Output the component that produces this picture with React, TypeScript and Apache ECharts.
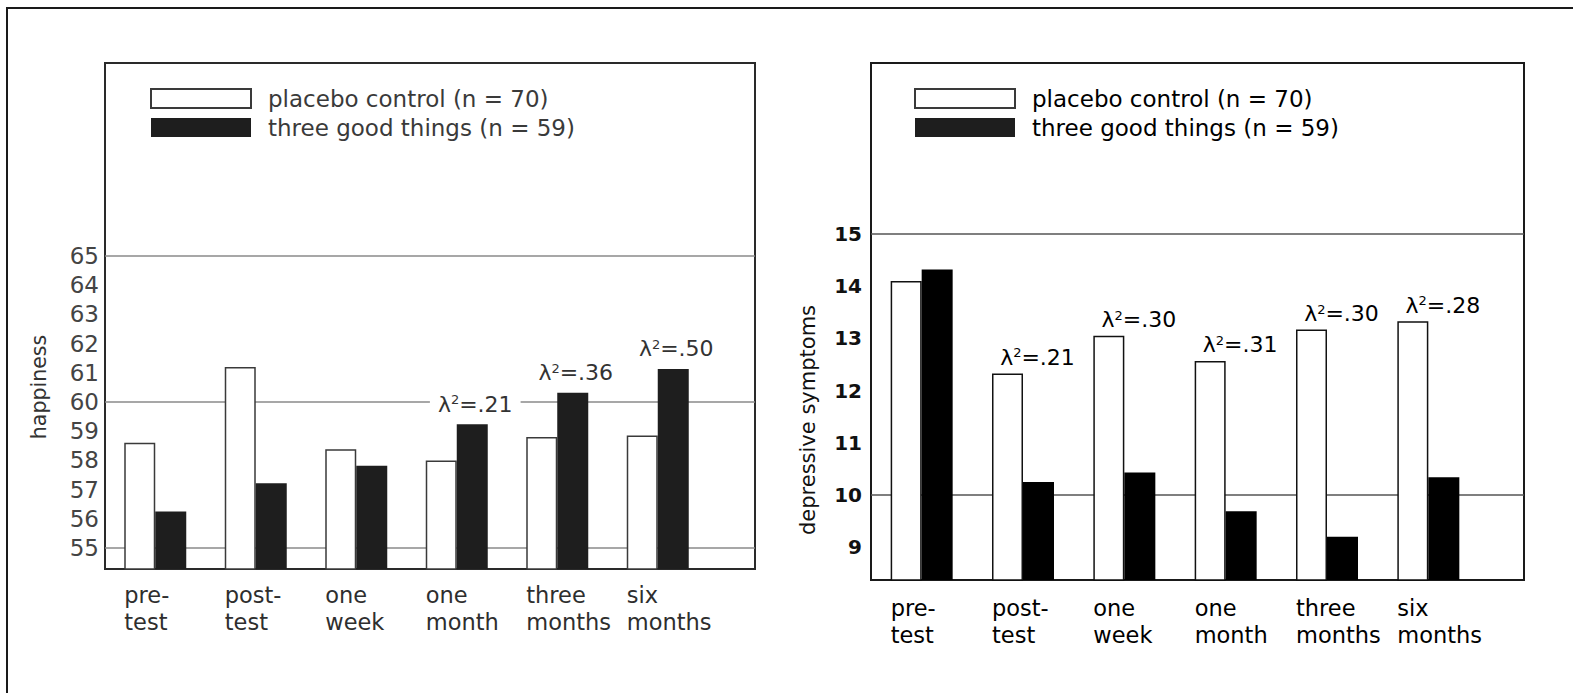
import { useEffect, useRef } from 'react';
import * as echarts from 'echarts';

const categories = ['pre-\ntest', 'post-\ntest', 'one\nweek', 'one\nmonth', 'three\nmonths', 'six\nmonths'];
const seriesNames = ['placebo control (n = 70)', 'three good things (n = 59)'];

const happinessPlacebo = [58.6, 61.2, 58.38, 58.0, 58.8, 58.85];
const happinessGood = [56.25, 57.22, 57.82, 59.24, 60.32, 61.13];
const happinessEffect = ['', '', '', '.21', '.36', '.50'];
const happinessTicks = [55, 56, 57, 58, 59, 60, 61, 62, 63, 64, 65];
const happinessGridValues = [55, 60, 65];

const depressionPlacebo = [14.1, 12.33, 13.05, 12.57, 13.17, 13.33];
const depressionGood = [14.32, 10.25, 10.43, 9.69, 9.2, 10.34];
const depressionEffect = ['', '.21', '.30', '.31', '.30', '.28'];
const depressionTicks = [9, 10, 11, 12, 13, 14, 15];
const depressionGridValues = [10, 15];

const FONT = '"DejaVu Sans", Verdana, sans-serif';

function effectText(e: string) {
  return `{l|λ}{s|2}{l|=${e}}`;
}

export default function App() {
  const ref = useRef<HTMLDivElement>(null);

  useEffect(() => {
    const chart = echarts.init(ref.current!, null, { renderer: 'svg' });

    const catLabel = (color: string, margin: number) => ({
      margin,
      formatter: (v: string) => v.split('\n').map((s) => `{a|${s}}`).join('\n'),
      rich: {
        a: { width: 62, align: 'left', fontSize: 22.5, lineHeight: 27, color, fontFamily: FONT },
      },
    });

    const effRich = (color: string) => ({
      l: { fontSize: 22, color, fontFamily: FONT },
      s: { fontSize: 13, color, fontFamily: FONT, verticalAlign: 'top' },
    });

    const withLabels = (values: number[], effects: string[]) =>
      values.map((v, i) => ({
        value: v,
        label: { show: !!effects[i], formatter: effects[i] ? effectText(effects[i]) : '' },
      }));

    const legendBase = {
      top: 87,
      orient: 'vertical',
      icon: 'rect',
      itemWidth: 100,
      itemHeight: 19,
      itemGap: 6,
      padding: 0,
      selectedMode: false,
      data: seriesNames,
    };

    const option: any = {
      animation: false,
      backgroundColor: '#fff',
      textStyle: { fontFamily: FONT },
      graphic: [
        {
          type: 'rect',
          silent: true,
          z: -10,
          shape: { x: 7, y: 8, width: 1620, height: 740 },
          style: { fill: 'none', stroke: '#1a1a1a', lineWidth: 2 },
        },
      ],
      legend: [
        {
          ...legendBase,
          left: 150,
          textStyle: { fontSize: 23, color: '#3a3a3a', fontFamily: FONT, padding: [0, 0, 0, 12] },
        },
        {
          ...legendBase,
          left: 914,
          textStyle: { fontSize: 23, color: '#000', fontFamily: FONT, padding: [0, 0, 0, 12] },
        },
      ],
      grid: [
        { left: 105, top: 63, width: 650, height: 506, show: true, borderColor: '#2a2a2a', borderWidth: 2, backgroundColor: 'transparent' },
        { left: 105, top: 63, width: 603, height: 506 },
        { left: 871, top: 63, width: 653, height: 517, show: true, borderColor: '#1a1a1a', borderWidth: 2, backgroundColor: 'transparent' },
        { left: 871, top: 63, width: 608, height: 517 },
      ],
      xAxis: [
        { gridIndex: 0, type: 'value', min: 0, max: 1, show: false },
        {
          gridIndex: 1,
          type: 'category',
          data: categories,
          axisLine: { show: false },
          axisTick: { show: false },
          axisLabel: catLabel('#2e2e2e', 12),
        },
        { gridIndex: 2, type: 'value', min: 0, max: 1, show: false },
        {
          gridIndex: 3,
          type: 'category',
          data: categories,
          axisLine: { show: false },
          axisTick: { show: false },
          axisLabel: catLabel('#000', 14),
        },
      ],
      yAxis: [
        {
          gridIndex: 0,
          type: 'value',
          min: 54.28,
          max: 71.61,
          name: 'happiness',
          nameLocation: 'middle',
          nameGap: 56,
          nameTextStyle: { fontSize: 20.5, color: '#333', fontFamily: FONT, padding: [0, 142, 0, 0] },
          axisLine: { show: false },
          axisTick: { show: false, customValues: happinessGridValues },
          axisLabel: { customValues: happinessTicks, fontSize: 23, color: '#444', margin: 6, fontFamily: FONT },
          splitLine: { show: true, lineStyle: { color: '#8a8a8a', width: 1.5 } },
        },
        { gridIndex: 1, type: 'value', min: 54.28, max: 71.61, show: false, splitLine: { show: false } },
        {
          gridIndex: 2,
          type: 'value',
          min: 8.37,
          max: 18.28,
          name: 'depressive symptoms',
          nameLocation: 'middle',
          nameGap: 53,
          nameTextStyle: { fontSize: 21, color: '#111', fontFamily: FONT, padding: [0, 197, 0, 0] },
          axisLine: { show: false },
          axisTick: { show: false, customValues: depressionGridValues },
          axisLabel: { customValues: depressionTicks, fontSize: 20, fontWeight: 'bold', color: '#111', margin: 9, fontFamily: FONT },
          splitLine: { show: true, lineStyle: { color: '#555', width: 1.5 } },
        },
        { gridIndex: 3, type: 'value', min: 8.37, max: 18.28, show: false, splitLine: { show: false } },
      ],
      series: [
        {
          type: 'bar',
          name: seriesNames[0],
          xAxisIndex: 1,
          yAxisIndex: 1,
          barWidth: 31,
          barGap: '0%',
          data: happinessPlacebo,
          itemStyle: { color: '#fff', borderColor: '#3a3a3a', borderWidth: 1.5 },
        },
        {
          type: 'bar',
          name: seriesNames[1],
          xAxisIndex: 1,
          yAxisIndex: 1,
          barWidth: 31,
          barGap: '0%',
          data: withLabels(happinessGood, happinessEffect),
          itemStyle: { color: '#1e1e1e' },
          label: {
            position: 'top',
            distance: 9,
            offset: [3, 0],
            backgroundColor: '#fff',
            padding: [0, 8],
            rich: effRich('#333'),
          },
        },
        {
          type: 'bar',
          name: seriesNames[0],
          xAxisIndex: 3,
          yAxisIndex: 3,
          barWidth: 31,
          barGap: '0%',
          data: withLabels(depressionPlacebo, depressionEffect),
          itemStyle: { color: '#fff', borderColor: '#111', borderWidth: 1.5 },
          label: {
            position: 'top',
            distance: 5,
            offset: [30, 0],
            rich: effRich('#000'),
          },
        },
        {
          type: 'bar',
          name: seriesNames[1],
          xAxisIndex: 3,
          yAxisIndex: 3,
          barWidth: 31,
          barGap: '0%',
          data: depressionGood,
          itemStyle: { color: '#000' },
        },
      ],
    };

    chart.setOption(option);
    return () => chart.dispose();
  }, []);

  return (
    <div
      ref={ref}
      style={{ position: 'fixed', left: 0, top: 0, width: 1573, height: 693 }}
    />
  );
}
